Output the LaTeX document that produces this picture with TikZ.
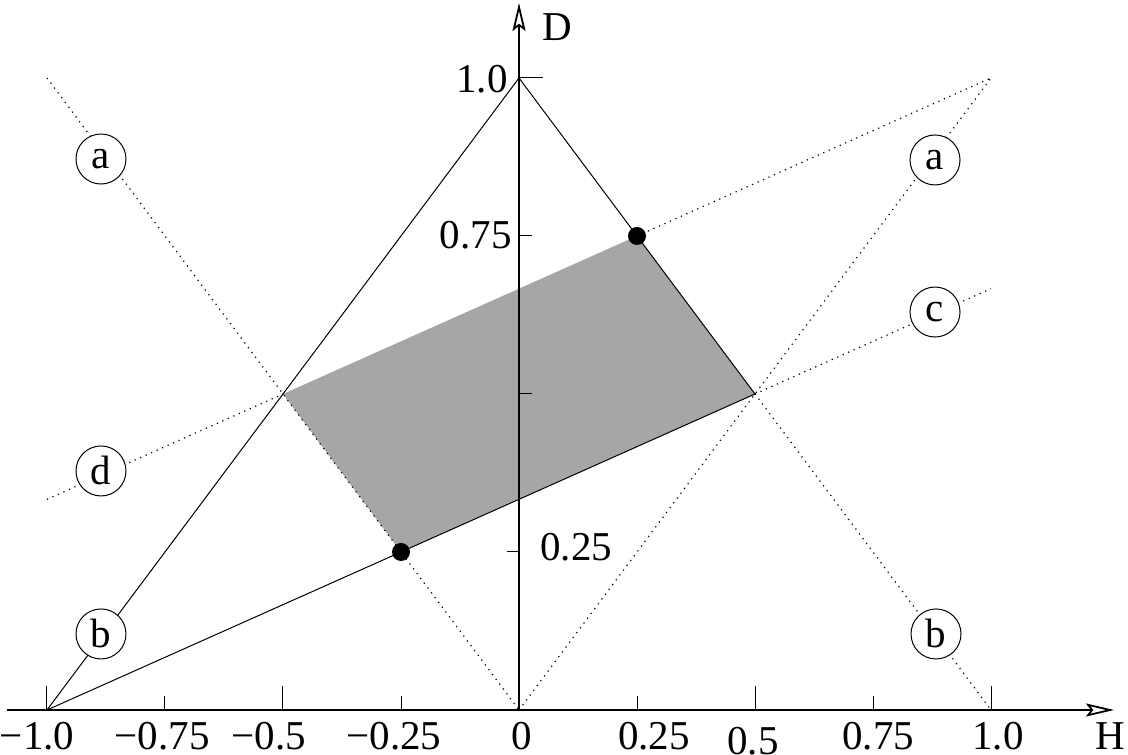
\documentclass[tikz,border=0pt]{standalone}
\usepackage{fontspec}
\setmainfont{Liberation Serif}
\newfontfamily\timesfont{Liberation Serif}
\usetikzlibrary{arrows.meta}
\definecolor{regiongray}{RGB}{166,166,166}
\begin{document}
\begin{tikzpicture}[x=236pt,y=316pt,
  thinline/.style={line width=0.5pt},
  dotline/.style={line width=0.6pt, dash pattern=on 0.6pt off 2.4pt},
  axisline/.style={line width=0.9pt, -{Stealth[length=14pt,width=6.5pt,inset=2.5pt,open,fill=white]}},
  lbl/.style={circle, draw, line width=0.5pt, fill=white, minimum size=25pt, inner sep=0pt, font=\timesfont\fontsize{20.5}{24}\selectfont},
  num/.style={inner sep=0pt, font=\timesfont\fontsize{20.5}{24}\selectfont},
  dotmark/.style={circle, fill=black, minimum size=9pt, inner sep=0pt},
  majortick/.style={line width=0.5pt},
  minortick/.style={line width=0.5pt}]
\useasboundingbox (-1.09958,-0.06962) rectangle (1.29025,1.12342);
% points
\coordinate (O) at (0,0);
\coordinate (L) at (-1,0);
\coordinate (R) at (1,0);
\coordinate (T) at (0,1);
\coordinate (TL) at (-1,1);
\coordinate (TR) at (1,1);
\coordinate (P1) at (-0.5,0.5);
\coordinate (P2) at (0.25,0.75);
\coordinate (P3) at (0.5,0.5);
\coordinate (P4) at (-0.25,0.25);
\coordinate (Dstart) at (-1,0.33333);
\coordinate (Cend) at (1,0.66667);
\coordinate (Hstart) at (-1.085,0);
\coordinate (Hend) at (1.2606,0);
\coordinate (Dtop) at (0,1.1187);
% shaded region
\fill[fill=regiongray] (P1) -- (P2) -- (P3) -- (P4) -- cycle;
% dotted lines
\draw[dotline] (TL) -- (O);
\draw[dotline] (O) -- (TR);
\draw[dotline] (P3) -- (R);
\draw[dotline] (P3) -- (Cend);
\draw[dotline] (Dstart) -- (P1);
\draw[dotline] (P2) -- (TR);
% solid lines
\draw[thinline] (L) -- (T);
\draw[thinline] (T) -- (P3);
\draw[thinline] (L) -- (P3);
% axes
\draw[axisline] (Hstart) -- (Hend);
\draw[axisline] (O) -- (Dtop);
% ticks on H
\foreach \t in {-1,-0.5,0.5,1} \draw[majortick] (\t,0) -- ++(0,12pt);
\foreach \t in {-0.75,-0.25,0.25,0.75} \draw[minortick] (\t,0) -- ++(0,7pt);
% ticks on D
\draw[majortick] (0,1) -- ++(12pt,0);
\draw[minortick] (0,0.75) -- ++(6.5pt,0);
\draw[minortick] (0,0.5) -- ++(6.5pt,0);
\draw[minortick] (0,0.25) -- ++(-6pt,0);
% dots
\node[dotmark] (dot1) at (P2) {};
\node[dotmark] (dot2) at (P4) {};
% circled labels
\node[lbl] (aL) at (-0.8856,0.8718) {a};
\node[lbl] (bL) at (-0.8856,0.1203) {b};
\node[lbl] (dL) at (-0.8856,0.3782) {d};
\node[lbl] (aR) at (0.8814,0.8703) {a};
\node[lbl] (cR) at (0.8814,0.6297) {c};
\node[lbl] (bR) at (0.8835,0.1203) {b};
% H axis labels
\node[num,anchor=base] (h1) at (-1.021,-0.0633) {−1.0};
\node[num,anchor=base] (h2) at (-0.756,-0.0633) {−0.75};
\node[num,anchor=base] (h3) at (-0.530,-0.0633) {−0.5};
\node[num,anchor=base] (h4) at (-0.265,-0.0633) {−0.25};
\node[num,anchor=base] (h5) at (0.006,-0.0633) {0};
\node[num,anchor=base] (h6) at (0.286,-0.0633) {0.25};
\node[num,anchor=base] (h7) at (0.496,-0.0712) {0.5};
\node[num,anchor=base] (h8) at (0.761,-0.0633) {0.75};
\node[num,anchor=base] (h9) at (1.015,-0.0633) {1.0};
\node[num,anchor=base] (hlab) at (1.252,-0.0633) {H};
% D axis labels
\node[num,anchor=east] (d1) at (-0.0233,0.998) {1.0};
\node[num,anchor=east] (d2) at (-0.0148,0.7516) {0.75};
\node[num,anchor=west] (d3) at (0.0445,0.258) {0.25};
\node[num] (dlab) at (0.0805,1.0807) {D};
\end{tikzpicture}
\end{document}
